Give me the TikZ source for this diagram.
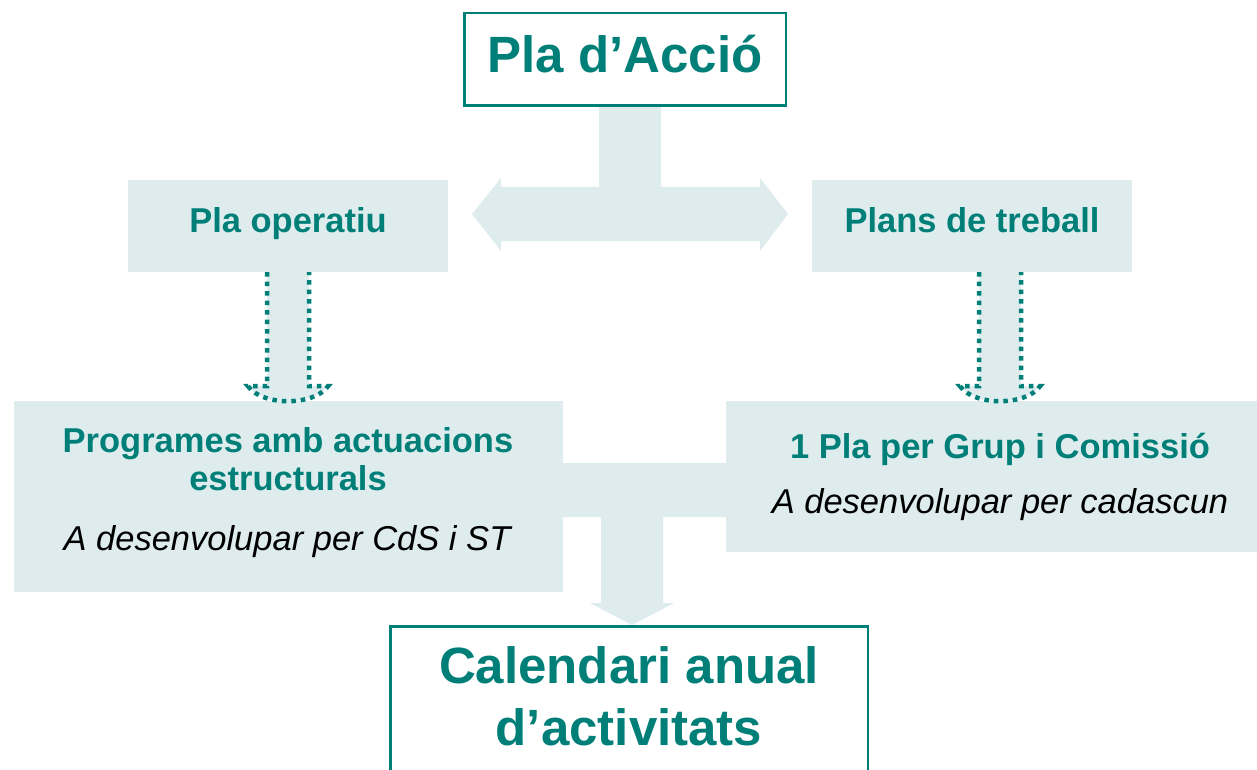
\documentclass[tikz,border=0pt]{standalone}
\usepackage{fontspec}
\setmainfont{Liberation Sans}
\usetikzlibrary{calc}
\definecolor{teal1}{HTML}{007F79}
\definecolor{lightfill}{HTML}{DEECED}
\begin{document}
\begin{tikzpicture}[x=1pt,y=-1pt,
  lbox/.style={draw=none,fill=lightfill,inner sep=0pt,rectangle},
  wbox/.style={draw=teal1,line width=2.5pt,fill=white,inner sep=0pt,rectangle},
  conn/.style={fill=lightfill,draw=none},
  dotline/.style={draw=teal1,line width=4.5pt,dash pattern=on 4.5pt off 5pt},
  big/.style={font=\bfseries\fontsize{51}{60}\selectfont,text=teal1,anchor=base,inner sep=0pt},
  ttl/.style={font=\bfseries\fontsize{34.5}{40}\selectfont,text=teal1,anchor=base,inner sep=0pt},
  sub/.style={font=\itshape\fontsize{34.5}{40}\selectfont,text=black,anchor=base,inner sep=0pt}]
\clip (0,0) rectangle (1257,770);

% T-connector and double arrow
\path[conn] (599,105) -- (661,105) -- (661,187) -- (760,187) -- (760,178) -- (788,214)
  -- (760,251) -- (760,241) -- (501,241) -- (501,251) -- (472,214) -- (501,178)
  -- (501,187) -- (599,187) -- cycle;

% boxes
\node[wbox,minimum width=321.5pt,minimum height=92.5pt] (top) at (625,59.5) {};
\node[lbox,minimum width=320pt,minimum height=92pt] (po) at (288,226) {};
\node[lbox,minimum width=320pt,minimum height=92pt] (pt) at (972,226) {};
\node[lbox,minimum width=549pt,minimum height=191pt] (prog) at (288.5,496.5) {};
\node[lbox,minimum width=548pt,minimum height=151pt] (pla1) at (1000,476.5) {};

% dotted arrows
\coordinate (da1) at (po.south -| 288,0);
\coordinate (da2) at (pt.south -| 1000,0);
\foreach \c in {da1,da2}{
  \path[conn] ($(\c)+(-21,0)$) -- ($(\c)+(-21,114)$) -- ($(\c)+(-40,114)$)
    .. controls ($(\c)+(-26,134)$) and ($(\c)+(26,134)$) .. ($(\c)+(40,114)$)
    -- ($(\c)+(21,114)$) -- ($(\c)+(21,0)$) -- cycle;
  \draw[dotline] ($(\c)+(-21,0)$) -- ($(\c)+(-21,114)$) -- ($(\c)+(-40,114)$)
    .. controls ($(\c)+(-26,134)$) and ($(\c)+(26,134)$) .. ($(\c)+(40,114)$)
    -- ($(\c)+(21,114)$) -- ($(\c)+(21,0)$);
}

% bottom connector
\path[conn] (prog.east |- 0,463) -- (pla1.west |- 0,463) -- (pla1.west |- 0,517)
  -- (663,517) -- (663,603) -- (674,603) -- (632,625) -- (590,603) -- (601,603)
  -- (601,517) -- (prog.east |- 0,517) -- cycle;

\node[wbox,minimum width=477.5pt,minimum height=172.5pt] (cal) at (629,712.5) {};

% texts
\node[big] (tTop) at (625,73) {Pla d’Acció};
\node[ttl] (tPo) at (288,232) {Pla operatiu};
\node[ttl] (tPt) at (972,232) {Plans de treball};
\node[ttl] (tProg1) at (288,452) {Programes amb actuacions};
\node[ttl] (tProg2) at (288,490) {estructurals};
\node[sub] (tProg3) at (287,550) {A desenvolupar per CdS i ST};
\node[ttl] (tPla1) at (1000,458) {1 Pla per Grup i Comissió};
\node[sub] (tPla2) at (1000,513) {A desenvolupar per cadascun};
\node[big] (tCal1) at (629,683) {Calendari anual};
\node[big] (tCal2) at (629,745) {d’activitats};
\end{tikzpicture}
\end{document}
